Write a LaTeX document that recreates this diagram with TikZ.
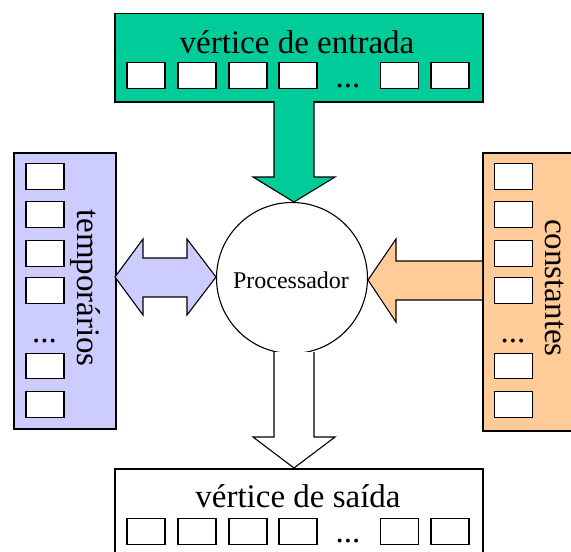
\documentclass[tikz,border=0pt]{standalone}
\usepackage{fontspec}
\setmainfont{Liberation Serif}
\definecolor{ingreen}{HTML}{00CC99}
\definecolor{tmplav}{HTML}{CCCCFF}
\definecolor{cstpeach}{HTML}{FFCC99}
\begin{document}
\begin{tikzpicture}[x=1pt,y=-1pt,
  panel/.style={draw=black, line width=1.6pt, inner sep=0pt, anchor=north west},
  cell/.style={draw=black, fill=white, line width=1.3pt, inner sep=0pt, minimum width=38pt, minimum height=25.5pt},
  bigtxt/.style={font=\fontsize{33}{36}\selectfont, inner sep=0pt},
  dots/.style={font=\fontsize{33}{36}\selectfont, inner sep=0pt, anchor=base},
  blockarrow/.style={draw=black, line width=1.1pt, line join=miter}
]
\clip (0,0) rectangle (571,552);
\fill[white] (0,0) rectangle (571,552);

% panels
\node[panel, fill=ingreen, minimum width=368pt, minimum height=88.5pt] (in) at (114,12.5) {};
\node[panel, fill=tmplav, minimum width=102pt, minimum height=276pt] (tmp) at (13,152) {};
\node[panel, fill=cstpeach, minimum width=100pt, minimum height=278pt] (cst) at (482,152) {};
\node[panel, fill=white, minimum width=368pt, minimum height=100pt] (out) at (114,468) {};

% texts of panels
\node[bigtxt, anchor=base] (intxt) at (297,53) {vértice de entrada};
\node[bigtxt, anchor=base] (outtxt) at (298,507) {vértice de saída};
\node[bigtxt, rotate=-90] (tmptxt) at (85,288) {temporários};
\node[bigtxt, rotate=-90] (csttxt) at (555,288) {constantes};

% cells top and bottom
\foreach \x [count=\i] in {146,197,248,298,399.5,450} {
  \node[cell] (ic\i) at (\x,75.5) {};
  \node[cell] (oc\i) at (\x,531.5) {};
}
\node[dots] (idots) at (348,87) {...};
\node[dots] (odots) at (348,542) {...};

% side cells
\foreach \y [count=\i] in {176.5,214.5,253.5,290.5,366,404.5} {
  \node[cell] (tc\i) at (45,\y) {};
  \node[cell] (cc\i) at (513.5,\y) {};
}
\node[dots] (tdots) at (44.5,342) {...};
\node[dots] (cdots) at (513,342) {...};

% processor
\node[draw=black, line width=1.1pt, circle, minimum size=151pt, inner sep=0pt, fill=white] (proc) at (292,278) {};
\node[font=\fontsize{24}{28}\selectfont, anchor=base, inner sep=0pt] (proctxt) at (291,288) {Processador};

% green arrow down into processor
\draw[blockarrow, fill=ingreen] (274,101) -- (274,177) -- (253,177) -- (294,202) -- (335,177) -- (314,177) -- (314,101);
% output arrow
\draw[blockarrow, fill=white] (274,352) -- (274,437) -- (253,437) -- (294,468) -- (335,437) -- (314,437) -- (314,352);
% double arrow temporarios
\draw[blockarrow, fill=tmplav] (115,277) -- (143,239) -- (143,258) -- (187,258) -- (187,239) -- (216,277) -- (187,315) -- (187,297) -- (143,297) -- (143,315) -- cycle;
% constants arrow
\draw[blockarrow, fill=cstpeach] (482,261) -- (396,261) -- (396,239) -- (368,280) -- (396,322) -- (396,300) -- (482,300);
\end{tikzpicture}
\end{document}
